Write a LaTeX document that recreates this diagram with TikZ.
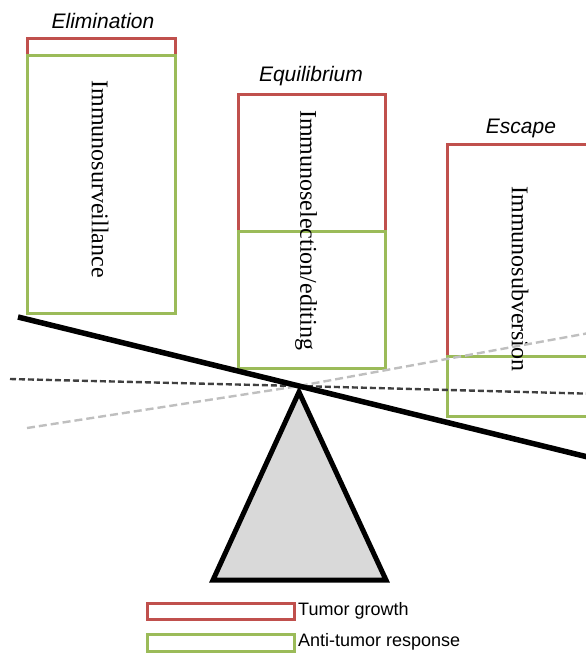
\documentclass[tikz,border=0pt]{standalone}
\usepackage{fontspec}
\setmainfont{Liberation Serif}
\setsansfont{Liberation Sans}
\usetikzlibrary{positioning}
\usepackage{xcolor}
\definecolor{tumorred}{HTML}{C0504D}
\definecolor{antigreen}{HTML}{9BBB59}
\definecolor{pivotgray}{HTML}{D9D9D9}

\tikzset{
	growth/.style={draw=tumorred, line width=3pt},
	response/.style={draw=antigreen, line width=3pt},
	phase/.style={font=\sffamily\itshape\fontsize{21}{24}\selectfont},
	process/.style={rotate=-90, font=\fontsize{24}{28}\selectfont},
	legendtext/.style={anchor=west, inner sep=0pt, font=\sffamily\fontsize{18}{21}\selectfont},
}

\begin{document}
\begin{tikzpicture}[x=1pt, y=-1pt]
			\clip (0,0) rectangle (586,653);
			
			% 清除
			\begin{scope}
				\draw[growth] (27,38) rectangle (175,55);
				\draw[response] (27,55) rectangle (175,313);
				\node[phase] (elim) at (103,21) {Elimination};
				\node[process] (surv) at (100,179) {Immunosurveillance};
			\end{scope}
			
			% 平衡
			\begin{scope}
				\draw[growth] (238,94) rectangle (385,231);
				\draw[response] (238,231) rectangle (385,368);
				\node[phase] (equi) at (311,76) {Equilibrium};
				\node[process] (edit) at (306,230) {Immunoselection/editing};
			\end{scope}
			
			% 逃逸
			\begin{scope}
				\draw[growth] (447,144) rectangle (600,356);
				\draw[response] (447,356) rectangle (600,416);
				\node[phase] (esc) at (521,128) {Escape};
				\node[process] (subv) at (520,279) {Immunosubversion};
			\end{scope}
			
			% 支点与杠杆
			\coordinate (pivot) at (299,386);
			\draw[line width=5pt, fill=pivotgray] (299,392) -- (386,580) -- (213,580) -- cycle;
			\draw[black!75, line width=2.4pt, dash pattern=on 6pt off 3pt] (10,379) -- (pivot) -- (600,394);
			\draw[black!25, line width=2.4pt, dash pattern=on 8pt off 4pt] (27,428) -- (pivot) -- (600,331);
			\draw[line width=5.5pt] (18,317) -- (pivot) -- (600,460);
			
			% 图例
			\draw[growth] (147,603) rectangle (294,619);
			\node[legendtext] (growthtxt) at (298,611) {Tumor growth};
			\draw[response] (147,634) rectangle (294,651);
			\node[legendtext] (responsetxt) at (298,642) {Anti-tumor response};
		\end{tikzpicture}
\end{document}
